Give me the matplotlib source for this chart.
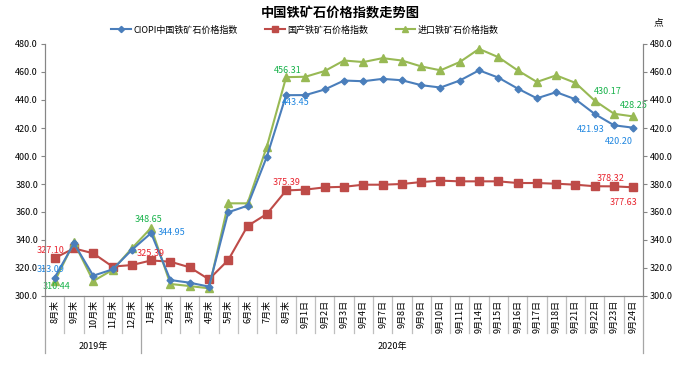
import matplotlib
matplotlib.use("Agg")
import matplotlib.pyplot as plt
from matplotlib.lines import Line2D
import matplotlib.transforms as mtransforms
from matplotlib.ticker import FormatStrFormatter, MultipleLocator

plt.rcParams['font.family'] = ['Noto Sans CJK SC', 'DejaVu Sans']

categories = ["8月末", "9月末", "10月末", "11月末", "12月末",
              "1月末", "2月末", "3月末", "4月末", "5月末", "6月末", "7月末", "8月末",
              "9月1日", "9月2日", "9月3日", "9月4日", "9月7日", "9月8日", "9月9日",
              "9月10日", "9月11日", "9月14日", "9月15日", "9月16日", "9月17日",
              "9月18日", "9月21日", "9月22日", "9月23日", "9月24日"]
years = ["2019年", "2020年"]
year_counts = [5, 26]

ciopi = [313.09, 337.6, 314.5, 319.0, 332.9, 344.95, 311.4, 309.5, 306.7,
         359.8, 364.5, 399.5, 443.45,
         443.5, 447.5, 453.9, 453.4, 455.1, 454.1, 450.6, 448.9, 453.9,
         461.2, 456.0, 448.2, 441.2, 445.6, 440.5, 430.0, 421.93, 420.20]
domestic = [327.10, 334.0, 330.5, 321.0, 322.1, 325.39, 324.5, 320.5, 311.9,
            325.7, 350.0, 358.6, 375.39,
            376.0, 377.6, 378.0, 379.5, 379.5, 380.0, 381.4, 382.4, 381.9,
            381.9, 381.9, 380.7, 380.7, 380.2, 379.5, 378.4, 378.32, 377.63]
imported = [310.44, 338.3, 310.7, 318.6, 334.0, 348.65, 308.6, 307.1, 305.5,
            366.2, 366.2, 406.7, 456.31,
            456.6, 460.7, 468.2, 467.1, 469.9, 468.2, 464.0, 461.2, 467.1,
            476.5, 470.6, 461.2, 452.9, 457.6, 452.2, 439.5, 430.17, 428.25]

names = ["CIOPI中国铁矿石价格指数", "国产铁矿石价格指数", "进口铁矿石价格指数"]
line_colors = ["#4A7EBB", "#BE4B48", "#98B954"]
label_colors = ["#1F86E0", "#E8232E", "#17B24A"]

# (series index, point index, dx px, dy px up)
labels = [
    (0, 0, -4, 8), (2, 0, 2, -5.5), (1, 0, -4, 7.6),
    (2, 5, -3, 8), (0, 5, 20, 1), (1, 5, 0, 6.5),
    (2, 12, 1.5, 7), (0, 12, 10, -7.5), (1, 12, 0, 8),
    (2, 29, -6, 22), (2, 30, 0, 11),
    (0, 29, -23, -4), (0, 30, -14.5, -14),
    (1, 29, -3, 8), (1, 30, -9.5, -15.4),
]

fig = plt.figure(figsize=(6.85, 3.66), dpi=100)
ax = fig.add_axes([45/685, 1-296/366, (643-45)/685, (296-44)/366])
x = list(range(len(categories)))
series = [ciopi, domestic, imported]
markers = ["D", "s", "^"]
msizes = [3.5, 5.2, 5.5]
zorders = [4, 3, 3]
handles = []
for s, c, m, ms, n, z in zip(series, line_colors, markers, msizes, names, zorders):
    h, = ax.plot(x, s, color=c, marker=m, markersize=ms, linewidth=1.5,
                 markeredgecolor=c, label=n, zorder=z)
    handles.append(h)
ax.set_xlim(-0.5, len(categories) - 0.5)
ax.set_ylim(300, 480)
ax.yaxis.set_major_locator(MultipleLocator(20))
ax.yaxis.set_major_formatter(FormatStrFormatter('%.1f'))
ax.set_xticks(x)
ax.set_xticklabels(categories, rotation=90, fontsize=6.5, va='top')
ax.tick_params(axis='x', length=0, pad=3)
ax.tick_params(axis='y', labelsize=6.5, length=3, color='#868686', direction='out', pad=2)

ax.spines['top'].set_visible(False)
for sp in ['left', 'right', 'bottom']:
    ax.spines[sp].set_color('#868686')
    ax.spines[sp].set_linewidth(0.8)

ax2 = ax.twinx()
ax2.set_ylim(300, 480)
ax2.yaxis.set_major_locator(MultipleLocator(20))
ax2.yaxis.set_major_formatter(FormatStrFormatter('%.1f'))
ax2.tick_params(axis='y', labelsize=6.5, length=3, color='#868686', direction='out', pad=2)
ax2.spines['top'].set_visible(False)
for sp in ['left', 'right', 'bottom']:
    ax2.spines[sp].set_color('#868686')
    ax2.spines[sp].set_linewidth(0.8)

# category separators
trans = mtransforms.blended_transform_factory(ax.transData, ax.transAxes)
short_y = -(333-296)/252
long_y = -(353-296)/252
bounds = [0]
for cnt in year_counts:
    bounds.append(bounds[-1] + cnt)
for k in range(len(categories) + 1):
    xv = k - 0.5
    yb = long_y if k in bounds else short_y
    ax.add_line(Line2D([xv, xv], [0, yb], transform=trans,
                       color='#BFBFBF' if k not in bounds else '#A6A6A6',
                       linewidth=0.9, clip_on=False))
for i, yname in enumerate(years):
    xc = (bounds[i] + bounds[i+1]) / 2 - 0.5
    ax.text(xc, -(347-296)/252, yname, transform=trans, ha='center', va='center', fontsize=6.5)

# data labels
for si, pi, dx, dy in labels:
    ax.annotate(f"{series[si][pi]:.2f}", (pi, series[si][pi]), xytext=(dx*0.72, dy*0.72),
                textcoords='offset points', ha='center', va='center', fontsize=6.5,
                color=label_colors[si], zorder=5)

fig.text(340/685, 1-14/366, "中国铁矿石价格指数走势图", ha='center', va='center',
         fontsize=9.5, fontweight='bold')
fig.text(658/685, 1-22/366, "点", ha='center', va='center', fontsize=7)
fig.legend(handles=handles, loc='center', bbox_to_anchor=(305/685, 1-30/366), ncol=3,
           frameon=False, fontsize=6.5, handlelength=2.2, columnspacing=3.0, handletextpad=0.3,
           markerscale=0.9)

fig.savefig("out.png", dpi=100)
